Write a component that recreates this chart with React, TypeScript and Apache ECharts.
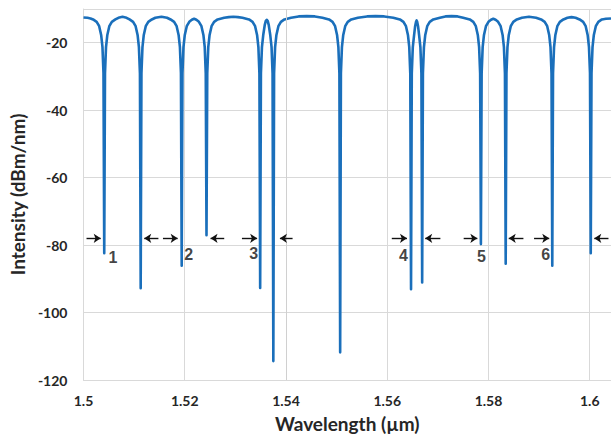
import React, { useEffect, useRef } from "react";
import * as echarts from "echarts";

const spectrum: [number, number][] = [
  [1.5, -12.5], [1.5008, -12.6], [1.5014, -12.8],
  // dip 1
  [1.5019, -13.1], [1.5026, -13.8], [1.5031, -15.1], [1.5035, -17.8], [1.50375, -21.3], [1.50395, -29],
  [1.5041, -82.4],
  [1.50425, -29], [1.50445, -21.3], [1.5047, -17.8], [1.5051, -15.1], [1.5056, -13.8], [1.5063, -13.1],
  [1.5069, -12.6], [1.5077, -12.3], [1.5085, -12.6],
  // dip 2
  [1.5091, -13.1], [1.5098, -13.8], [1.5103, -15.1], [1.5107, -17.8], [1.51095, -21.3], [1.51115, -29],
  [1.5113, -92.8],
  [1.51145, -29], [1.51165, -21.3], [1.5119, -17.8], [1.5123, -15.1], [1.5128, -13.8], [1.5135, -13.1],
  [1.5142, -12.6], [1.5154, -12.3], [1.5165, -12.6],
  // dip 3
  [1.5172, -13.1], [1.5179, -13.8], [1.5184, -15.1], [1.5188, -17.8], [1.51905, -21.3], [1.51925, -29],
  [1.5194, -86.1],
  [1.51955, -29], [1.51975, -21.3], [1.52, -17.8], [1.5204, -15.1], [1.5209, -13.8],
  [1.5214, -13.2], [1.52185, -12.9], [1.5223, -13.2],
  // dip 4
  [1.5228, -13.8], [1.5233, -15.1], [1.5237, -17.8], [1.52395, -21.3], [1.52415, -29],
  [1.5243, -77.1],
  [1.52445, -29], [1.52465, -21.3], [1.5249, -17.8], [1.5253, -15.1], [1.5258, -13.8], [1.5265, -13.1],
  [1.5278, -12.6], [1.5287, -12.4], [1.5296, -12.3], [1.5305, -12.4], [1.5314, -12.6],
  // dip 5
  [1.5327, -13.1], [1.5334, -13.8], [1.5339, -15.1], [1.5343, -17.8], [1.53455, -21.3], [1.53475, -29],
  [1.5349, -92.7],
  [1.53505, -29], [1.53525, -21.3], [1.5355, -17.8], [1.5358, -14.8], [1.536, -13.6],
  [1.5362, -13.2],
  // dip 6
  [1.5364, -13.6], [1.5366, -14.8], [1.5369, -17.8], [1.53715, -21.3], [1.53735, -29],
  [1.5375, -114.4],
  [1.53765, -29], [1.53785, -21.3], [1.5381, -17.8], [1.5385, -15.1], [1.539, -13.8], [1.5397, -13.1],
  [1.541, -12.6], [1.5425, -12.2], [1.5441, -12.1], [1.5457, -12.2], [1.5472, -12.6],
  // dip 7
  [1.5485, -13.1], [1.5492, -13.8], [1.5497, -15.1], [1.5501, -17.8], [1.55035, -21.3], [1.55055, -29],
  [1.5507, -111.8],
  [1.55085, -29], [1.55105, -21.3], [1.5513, -17.8], [1.5517, -15.1], [1.5522, -13.8], [1.5529, -13.1],
  [1.5542, -12.6], [1.556, -12.2], [1.5577, -12.1], [1.5594, -12.2], [1.5612, -12.6],
  // dip 8
  [1.5625, -13.1], [1.5632, -13.8], [1.5637, -15.1], [1.5641, -17.8], [1.56435, -21.3], [1.56455, -29],
  [1.5647, -93.1],
  [1.56485, -29], [1.56505, -21.3], [1.5653, -17.8], [1.5655, -15.2], [1.5657, -13.7],
  [1.5658, -13.4],
  // dip 9
  [1.5659, -13.7], [1.5661, -15.2], [1.5663, -17.8], [1.56655, -21.3], [1.56675, -29],
  [1.5669, -91.1],
  [1.56705, -29], [1.56725, -21.3], [1.5675, -17.8], [1.5679, -15.1], [1.5684, -13.8], [1.5691, -13.1],
  [1.5704, -12.6], [1.5715, -12.2], [1.5727, -12.1], [1.5739, -12.2], [1.575, -12.6],
  // dip 10
  [1.5763, -13.1], [1.577, -13.8], [1.5775, -15.1], [1.5779, -17.8], [1.57815, -21.3], [1.57835, -29],
  [1.5785, -79.7],
  [1.57865, -29], [1.57885, -21.3], [1.5791, -17.8], [1.5795, -15.1], [1.58, -13.8],
  [1.5805, -13.2], [1.58095, -12.9], [1.5814, -13.2],
  // dip 11
  [1.5819, -13.8], [1.5824, -15.1], [1.5828, -17.8], [1.58305, -21.3], [1.58325, -29],
  [1.5834, -85.5],
  [1.58355, -29], [1.58375, -21.3], [1.584, -17.8], [1.5844, -15.1], [1.5849, -13.8], [1.5856, -13.1],
  [1.5866, -12.6], [1.588, -12.3], [1.5894, -12.6],
  // dip 12
  [1.5904, -13.1], [1.5911, -13.8], [1.5916, -15.1], [1.592, -17.8], [1.59225, -21.3], [1.59245, -29],
  [1.5926, -86.1],
  [1.59275, -29], [1.59295, -21.3], [1.5932, -17.8], [1.5936, -15.1], [1.5941, -13.8], [1.5948, -13.1],
  [1.5956, -12.6], [1.5964, -12.4], [1.5972, -12.6],
  // dip 13
  [1.598, -13.1], [1.5987, -13.8], [1.5992, -15.1], [1.5996, -17.8], [1.59985, -21.3], [1.60005, -29],
  [1.6002, -82.4],
  [1.60035, -29], [1.60055, -21.3], [1.6008, -17.8], [1.6012, -15.1], [1.6017, -13.8], [1.6024, -13.1],
  [1.6032, -12.9], [1.6042, -12.8],
];

// Arrow annotations (tail and head wavelengths), all at the same level
const arrowTails = [1.5006, 1.5148, 1.5157, 1.5278, 1.5313, 1.5413, 1.5609, 1.5705, 1.5751, 1.5869, 1.589, 1.6037];
const arrowHeads = [1.5034, 1.512, 1.5186, 1.5251, 1.5343, 1.5388, 1.5639, 1.5675, 1.5778, 1.584, 1.592, 1.6009];
const arrowLevel = -78;

// Numbered labels
const labelTexts = ["1", "2", "3", "4", "5", "6"];
const labelWavelengths = [1.5058, 1.5208, 1.5336, 1.5632, 1.5786, 1.5913];
const labelIntensities = [-83.7, -82.7, -82.4, -83.0, -83.3, -82.7];

// Extra vertical reference line
const referenceLines = [1.5447];

const xMin = 1.5;
const xMax = 1.6042;
const xStep = 0.02;
const yMin = -120;
const yMax = -10;
const yStep = 20;

export default function App() {
  const ref = useRef<HTMLDivElement>(null);
  useEffect(() => {
    if (!ref.current) return;
    const chart = echarts.init(ref.current, undefined, { renderer: "svg" });
    const labelFont = "Lato, 'Open Sans', sans-serif";
    chart.setOption({
      animation: false,
      backgroundColor: "#ffffff",
      grid: { left: 83, right: 0, top: 9, bottom: 58, containLabel: false },
      xAxis: {
        type: "value",
        min: xMin,
        max: xMax,
        interval: xStep,
        name: "Wavelength (µm)",
        nameLocation: "middle",
        nameGap: 34,
        nameTextStyle: { fontFamily: labelFont, fontSize: 19, fontWeight: "bold", color: "#262626" },
        axisLine: { show: true, lineStyle: { color: "#d9d9d9", width: 1 } },
        axisTick: { show: false },
        axisLabel: {
          margin: 13,
          fontFamily: labelFont,
          fontSize: 14,
          fontWeight: "bold",
          color: "#262626",
          showMaxLabel: false,
          formatter: (v: number) => String(Number(v.toFixed(3))),
        },
        splitLine: { show: true, lineStyle: { color: "#d9d9d9", width: 1 } },
      },
      yAxis: {
        type: "value",
        min: yMin,
        max: yMax,
        interval: yStep,
        name: "Intensity (dBm/nm)",
        nameLocation: "middle",
        nameGap: 50,
        nameRotate: 90,
        nameTextStyle: { fontFamily: labelFont, fontSize: 19, fontWeight: "bold", color: "#262626" },
        axisLine: { show: true, lineStyle: { color: "#d9d9d9", width: 1 } },
        axisTick: { show: false },
        axisLabel: {
          margin: 16,
          fontFamily: labelFont,
          fontSize: 14,
          fontWeight: "bold",
          color: "#262626",
          showMaxLabel: false,
        },
        splitLine: { show: true, lineStyle: { color: "#d9d9d9", width: 1 } },
      },
      series: [
        {
          type: "line",
          data: [],
          silent: true,
          markLine: {
            silent: true,
            symbol: ["none", "none"],
            label: { show: false },
            lineStyle: { color: "#d0d0d0", width: 1, type: "solid" },
            data: referenceLines.map((x) => ({ xAxis: x })),
          },
        },
        {
          type: "line",
          data: spectrum,
          showSymbol: false,
          symbol: "none",
          lineStyle: { color: "#1a6fbb", width: 2.6, join: "round" },
          z: 3,
        },
        {
          type: "scatter",
          symbolSize: 1,
          itemStyle: { color: "rgba(0,0,0,0)" },
          z: 4,
          data: labelTexts.map((t, i) => ({ name: t, value: [labelWavelengths[i], labelIntensities[i]] })),
          label: {
            show: true,
            position: "inside",
            formatter: "{b}",
            fontFamily: "'Liberation Sans', Arial, sans-serif",
            fontWeight: "bold",
            fontSize: 16,
            color: "#111111",
          },
          markLine: {
            silent: true,
            symbol: ["none", "arrow"],
            symbolSize: [7, 7],
            label: { show: false },
            lineStyle: { color: "#111111", width: 1.4, type: "solid" },
            data: arrowTails.map((x, i) => [
              { coord: [x, arrowLevel] },
              { coord: [arrowHeads[i], arrowLevel] },
            ]),
          },
        },
      ],
    });
    return () => chart.dispose();
  }, []);
  return <div ref={ref} style={{ position: "fixed", left: 0, top: 0, width: 611, height: 438 }} />;
}
